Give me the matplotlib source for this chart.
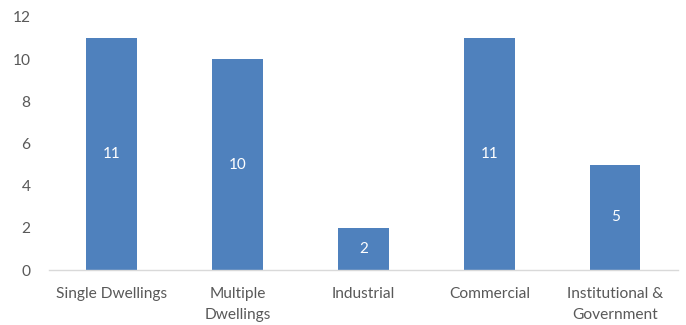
import matplotlib
matplotlib.use("Agg")
import matplotlib.pyplot as plt

categories = ["Single Dwellings", "Multiple\nDwellings", "Industrial",
              "Commercial", "Institutional &\nGovernment"]
counts = [11, 10, 2, 11, 5]
yticks = [0, 2, 4, 6, 8, 10, 12]

BLUE = "#4F81BD"
GREY = "#595959"
plt.rcParams["font.family"] = ["Lato", "DejaVu Sans"]

fig = plt.figure(figsize=(6.86, 3.25), dpi=100)
ax = fig.add_axes([0.0707, 0.169, 0.918, 0.779])

x = range(len(categories))
bars = ax.bar(x, counts, width=0.4, color=BLUE, zorder=2)
for b, v in zip(bars, counts):
    ax.text(b.get_x() + b.get_width() / 2, v / 2, str(v), ha="center", va="center",
            color="white", fontsize=11)

ax.set_xlim(-0.5, len(categories) - 0.5)
ax.set_ylim(0, 12)
ax.set_yticks(yticks)
ax.set_xticks(list(x))
ax.set_xticklabels(categories, linespacing=1.65)
ax.tick_params(axis="both", length=0, colors=GREY, labelsize=11.2)
ax.tick_params(axis="y", pad=13)
ax.tick_params(axis="x", pad=12)
for s in ["top", "right", "left"]:
    ax.spines[s].set_visible(False)
ax.spines["bottom"].set_color("#D9D9D9")
ax.spines["bottom"].set_linewidth(1.0)

fig.savefig("out.png", dpi=100)
